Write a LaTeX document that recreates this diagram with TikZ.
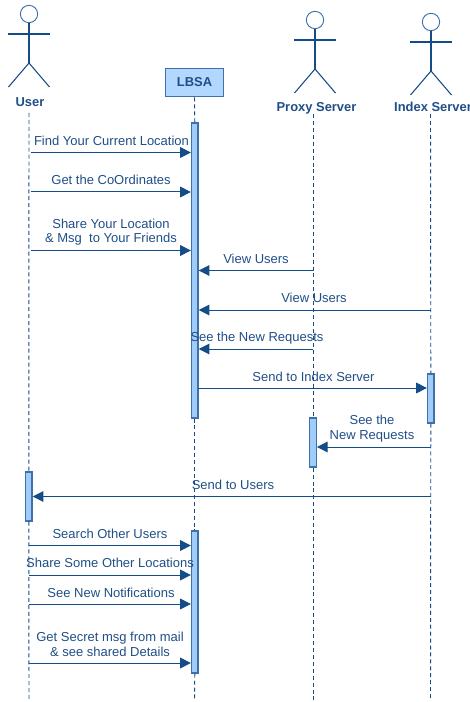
\documentclass[tikz,border=0pt]{standalone}
\usepackage{fontspec}
\setmainfont{Liberation Sans}
\usetikzlibrary{arrows.meta,calc}
\definecolor{ln}{RGB}{20,76,136}
\definecolor{txt}{RGB}{32,78,135}
\definecolor{barfill}{RGB}{160,204,250}
\definecolor{boxfill}{RGB}{178,216,255}
\definecolor{barline}{RGB}{62,112,170}
\tikzset{
  msg/.style={draw=ln,line width=0.75pt,-{Triangle[length=8pt,width=8pt,fill=ln]}},
  life/.style={draw=ln,line width=0.7pt,dash pattern=on 3pt off 2.2pt},
  limb/.style={draw=ln,line width=0.8pt},
  head/.style={circle,draw=barline,line width=0.7pt,fill=white,inner sep=0pt},
  label/.style={text=txt,font=\fontsize{9.75}{11}\selectfont,align=center,inner sep=0pt},
  actor/.style={text=txt,font=\fontsize{9.7}{11}\selectfont\bfseries,inner sep=0pt},
  bar/.style={rectangle,draw=barline,fill=barfill,line width=1pt,inner sep=0pt,minimum width=4.9pt},
}
\newcommand{\stick}[5]{% name, cx, head-y, body-end y, arm y
  \node[head,minimum size=13pt] (#1h) at (#2,#3) {};
  \coordinate (#1hip) at (#2,#4);
  \draw[limb] (#1h.south) -- (#1hip);
  \draw[limb] ($(#2,#5)+(-21,0)$) -- ($(#2,#5)+(21,0)$);
  \draw[limb] (#1hip) -- ($(#1hip)+(-20.5,24)$);
  \draw[limb] (#1hip) -- ($(#1hip)+(20.5,24)$);
}
\begin{document}
\begin{tikzpicture}[x=0.75pt,y=-0.75pt]
\useasboundingbox (0,0) rectangle (470,702);
% actors
\stick{u}{29}{14}{63}{34}
\stick{p}{315}{20}{69}{40}
\stick{i}{431}{22}{71}{42}
\node[actor] (ulab) at (30,102) {User};
\node[actor] (plab) at (316.5,108.5) {Proxy Server};
\node[actor] (ilab) at (433,107) {Index Server};
\node[rectangle,draw=barline,fill=boxfill,line width=0.9pt,minimum width=44pt,minimum height=21.5pt,inner sep=0pt,text=txt,font=\fontsize{9.7}{11}\selectfont\bfseries] (lbsa) at (194.5,82.5) {LBSA};
% bar geometry
\coordinate (ub0) at (29,113);
\coordinate (ub3) at (29,700);
\coordinate (lb3) at (194.5,700);
\coordinate (pb0) at (313,114);
\coordinate (pb3) at (313,700);
\coordinate (ib0) at (430.5,114);
\coordinate (ib3) at (430.5,700);
% activations
\node[bar,minimum height=221pt] (lbar1) at (194.8,270.5) {};
\node[bar,minimum height=106.5pt] (lbar2) at (194.8,602) {};
\node[bar,minimum height=36.7pt] (pbar) at (313,442.5) {};
\node[bar,minimum height=36.7pt] (ibar) at (430.8,398.5) {};
\node[bar,minimum height=36.7pt] (ubar) at (28.8,496.5) {};
% lifelines
\draw[life] (ub0) -- (ubar.north);
\draw[life] (ubar.south) -- (ub3);
\draw[life] (lbsa.south) -- (lbar1.north);
\draw[life] (lbar1.south) -- (lbar2.north);
\draw[life] (lbar2.south) -- (lb3);
\draw[life] (pb0) -- (pbar.north);
\draw[life] (pbar.south) -- (pb3);
\draw[life] (ib0) -- (ibar.north);
\draw[life] (ibar.south) -- (ib3);
% messages
\coordinate (m1) at (31,152.5);
\coordinate (m2) at (31,192);
\coordinate (m3) at (31,250.5);
\coordinate (m4) at (313,270.5);
\coordinate (m5) at (430.5,310);
\coordinate (m6) at (313,349);
\coordinate (m7) at (198,388);
\coordinate (m8) at (430.5,447);
\coordinate (m9) at (430.5,496.5);
\coordinate (m10) at (29,545.5);
\coordinate (m11) at (29,575);
\coordinate (m12) at (29,604);
\coordinate (m13) at (29,663);
\draw[msg] (m1) -- (m1 -| lbar1.west);
\draw[msg] (m2) -- (m2 -| lbar1.west);
\draw[msg] (m3) -- (m3 -| lbar1.west);
\draw[msg] (m4) -- (m4 -| lbar1.east);
\draw[msg] (m5) -- (m5 -| lbar1.east);
\draw[msg] (m6) -- (m6 -| lbar1.east);
\draw[msg] (m7) -- (m7 -| ibar.west);
\draw[msg] (m8) -- (m8 -| pbar.east);
\draw[msg] (m9) -- (m9 -| ubar.east);
\draw[msg] (m10) -- (m10 -| lbar2.west);
\draw[msg] (m11) -- (m11 -| lbar2.west);
\draw[msg] (m12) -- (m12 -| lbar2.west);
\draw[msg] (m13) -- (m13 -| lbar2.west);
% labels
\node[label] (t1) at (111.5,141) {Find Your Current Location};
\node[label] (t2) at (111,180) {Get the CoOrdinates};
\node[label] (t3) at (111,232) {Share Your Location\\\& Msg\ \ to Your Friends};
\node[label] (t4) at (256,259) {View Users};
\node[label] (t5) at (314,298) {View Users};
\node[label] (t6) at (257,338) {See the New Requests};
\node[label] (t7) at (313.5,377) {Send to Index Server};
\node[label] (t8) at (372,428.5) {See the\\New Requests};
\node[label] (t9) at (233,485) {Send to Users};
\node[label] (t10) at (110,534) {Search Other Users};
\node[label] (t11) at (110,563) {Share Some Other Locations};
\node[label] (t12) at (111,593) {See New Notifications};
\node[label] (t13) at (110,644.5) {Get Secret msg from mail\\\& see shared Details};
\end{tikzpicture}
\end{document}
